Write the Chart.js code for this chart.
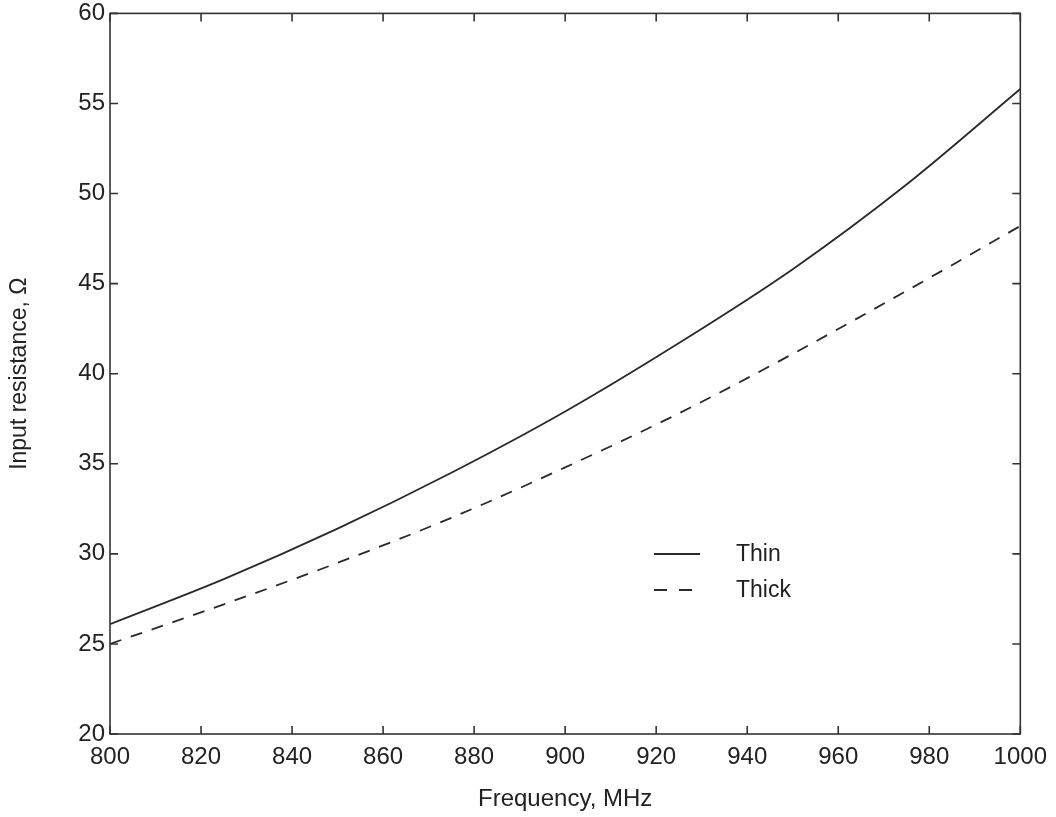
<!DOCTYPE html>
<html>
<head>
<meta charset="utf-8">
<title>Input resistance vs frequency</title>
<script src="https://cdn.jsdelivr.net/npm/chart.js@4/dist/chart.umd.min.js"></script>
<style>
    html, body { margin: 0; padding: 0; background: #fff; }
    #wrap { width: 1056px; height: 817px; }
</style>
</head>
<body>
<div id="wrap"><canvas id="resChart" width="1056" height="817"></canvas></div>
<script>
// Frequency samples (MHz) and input resistance (ohms) for the two dipoles
const freqMHz = [800, 825, 850, 875, 900, 925, 950, 975, 1000];
const thinOhms = [26.1, 28.6, 31.4, 34.5, 37.9, 41.7, 45.8, 50.5, 55.8];
const thickOhms = [25.0, 27.2, 29.5, 32.0, 34.8, 37.8, 41.1, 44.6, 48.2];
const xTicks = [800, 820, 840, 860, 880, 900, 920, 940, 960, 980, 1000];
const yTicks = [20, 25, 30, 35, 40, 45, 50, 55, 60];

const ink = '#222';
const fontFamily = '"Liberation Sans", Arial, Helvetica, sans-serif';

// Box around the plot with inward tick marks on all four sides
const framePlugin = {
    id: 'frame',
    afterDatasetsDraw(chart) {
        const { ctx, chartArea: a, scales } = chart;
        const len = 8;
        ctx.save();
        ctx.strokeStyle = '#333';
        ctx.lineWidth = 1.6;
        ctx.strokeRect(a.left, a.top, a.right - a.left, a.bottom - a.top);
        ctx.beginPath();
        xTicks.forEach(v => {
            const px = scales.x.getPixelForValue(v);
            ctx.moveTo(px, a.bottom); ctx.lineTo(px, a.bottom - len);
            ctx.moveTo(px, a.top); ctx.lineTo(px, a.top + len);
        });
        yTicks.forEach(v => {
            const py = scales.y.getPixelForValue(v);
            ctx.moveTo(a.left, py); ctx.lineTo(a.left + len, py);
            ctx.moveTo(a.right, py); ctx.lineTo(a.right - len, py);
        });
        ctx.stroke();
        ctx.restore();
    }
};

// Legend drawn inside the plot, below the curves
const legendPlugin = {
    id: 'innerLegend',
    afterDatasetsDraw(chart) {
        const { ctx } = chart;
        const x0 = 654, textX = 736;
        let y = 554;
        ctx.save();
        chart.data.datasets.forEach(ds => {
            const dashed = ds.borderDash.length > 0;
            ctx.strokeStyle = ds.borderColor;
            ctx.lineWidth = ds.borderWidth;
            ctx.setLineDash(dashed ? [13, 12] : []);
            ctx.beginPath();
            ctx.moveTo(x0, y);
            ctx.lineTo(dashed ? 693 : 700, y);
            ctx.stroke();
            ctx.setLineDash([]);
            ctx.fillStyle = ink;
            ctx.font = '23px ' + fontFamily;
            ctx.textBaseline = 'middle';
            ctx.fillText(ds.label, textX, y + 1);
            y += 36;
        });
        ctx.restore();
    }
};

const ctx = document.getElementById('resChart').getContext('2d');
new Chart(ctx, {
    type: 'line',
    data: {
        datasets: [
            {
                label: 'Thin',
                data: freqMHz.map((f, i) => ({ x: f, y: thinOhms[i] })),
                borderColor: '#2a2a2a',
                borderWidth: 1.8,
                borderDash: [],
                pointRadius: 0,
                cubicInterpolationMode: 'monotone'
            },
            {
                label: 'Thick',
                data: freqMHz.map((f, i) => ({ x: f, y: thickOhms[i] })),
                borderColor: '#2a2a2a',
                borderWidth: 1.8,
                borderDash: [12, 10],
                pointRadius: 0,
                cubicInterpolationMode: 'monotone'
            }
        ]
    },
    options: {
        responsive: false,
        animation: false,
        layout: { padding: { left: 0, top: 0, right: 28, bottom: 0 } },
        plugins: {
            legend: { display: false },
            tooltip: { enabled: false }
        },
        scales: {
            x: {
                type: 'linear',
                min: 800,
                max: 1000,
                afterBuildTicks: axis => { axis.ticks = xTicks.map(v => ({ value: v })); },
                afterFit: axis => { axis.height = 83; },
                grid: { display: false, drawTicks: false },
                border: { display: false },
                ticks: {
                    color: ink,
                    padding: 9,
                    maxRotation: 0,
                    callback: v => String(v),
                    font: { family: fontFamily, size: 24 }
                },
                title: {
                    display: true,
                    text: 'Frequency, MHz',
                    color: ink,
                    padding: { top: 14, bottom: 3 },
                    font: { family: fontFamily, size: 24 }
                }
            },
            y: {
                type: 'linear',
                min: 20,
                max: 60,
                afterBuildTicks: axis => { axis.ticks = yTicks.map(v => ({ value: v })); },
                afterFit: axis => { axis.width = 110; },
                grid: { display: false, drawTicks: false },
                border: { display: false },
                ticks: {
                    color: ink,
                    padding: 5,
                    callback: v => String(v),
                    font: { family: fontFamily, size: 24, lineHeight: 0.7 }
                },
                title: {
                    display: true,
                    text: 'Input resistance, Ω',
                    color: ink,
                    padding: { top: 6, bottom: 4 },
                    font: { family: fontFamily, size: 23 }
                }
            }
        }
    },
    plugins: [framePlugin, legendPlugin]
});
</script>
</body>
</html>
